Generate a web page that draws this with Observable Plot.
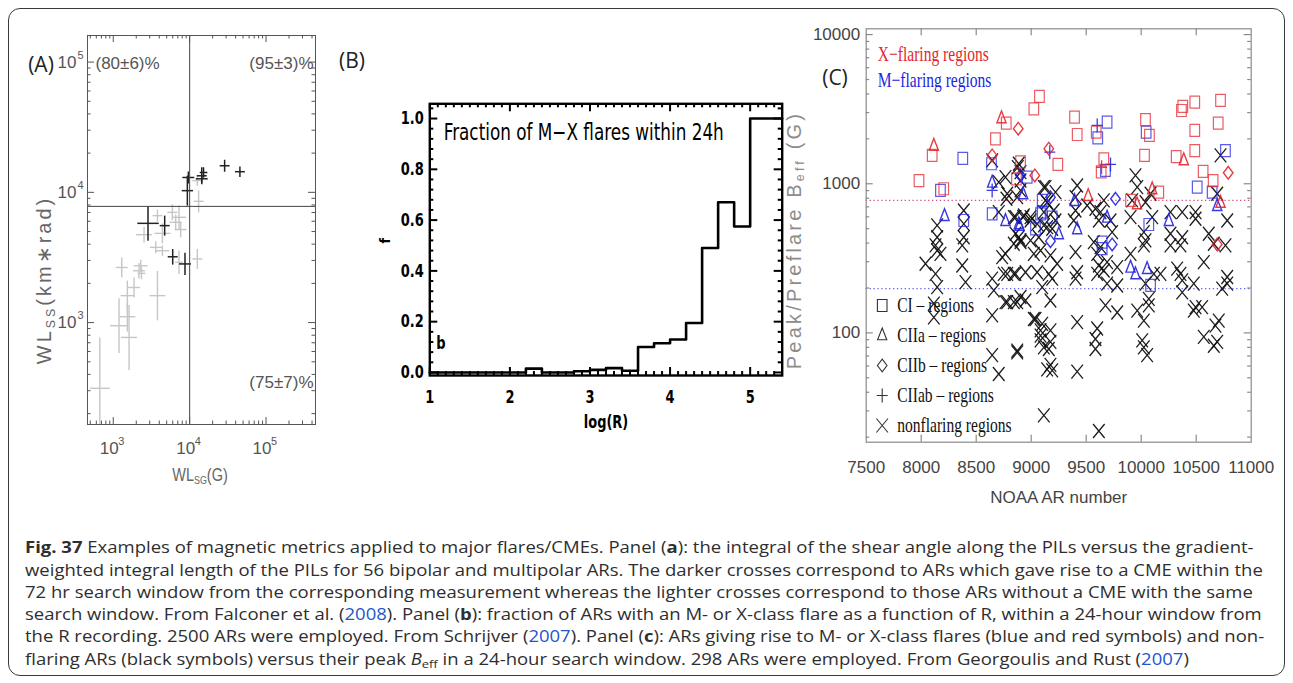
<!DOCTYPE html>
<html><head><meta charset="utf-8">
<script src="https://cdn.jsdelivr.net/npm/d3@7"></script>
<script src="https://cdn.jsdelivr.net/npm/@observablehq/plot@0.6"></script>
<style>
html,body{margin:0;padding:0;background:#fff}
body{width:1293px;height:683px;position:relative;overflow:hidden}
#border{position:absolute;left:8px;top:8px;width:1275px;height:666px;border:1.6px solid #3a3a3a;border-radius:12px}
.pl{position:absolute;top:0}
.lbl{position:absolute;font-family:"Open Sans",sans-serif;font-size:21px;color:#222;transform:translate(-50%,-50%);white-space:nowrap}
.axt{position:absolute;font-family:"Liberation Sans",Arial,sans-serif;color:#666;white-space:nowrap;transform:translate(-50%,-50%)}
.axt sub{font-size:62%;vertical-align:-0.3em}
.rot{transform:translate(-50%,-50%) rotate(-90deg)}
#caption{position:absolute;left:25px;top:536px;font-family:"Open Sans",sans-serif;font-size:18.5px;line-height:25.5px;color:#2e2e2e;transform:scaleY(0.87);transform-origin:0 0}
#caption div{white-space:nowrap}
#caption a{color:#2255cc;text-decoration:none}
#caption sub{font-size:70%;vertical-align:-0.25em;line-height:0}
</style></head><body>
<div id="border"></div>
<div id="pA" class="pl" style="left:0px"></div>
<div id="pB" class="pl" style="left:340px"></div>
<div id="pC" class="pl" style="left:800px"></div>
<div class="lbl" style="left:41px;top:64px">(A)</div>
<div class="lbl" style="left:352px;top:60px">(B)</div>
<div class="lbl" style="left:835px;top:77px">(C)</div>
<div class="axt rot" style="left:45px;top:280px;font-size:20px;letter-spacing:3px">WL<sub>SS</sub>(km∗rad)</div>
<div class="axt" style="left:200px;top:475px;font-size:19px;transform:translate(-50%,-50%) scaleX(0.76)">WL<sub>SG</sub>(G)</div>
<div class="axt rot" style="left:795px;top:240px;font-size:20px;letter-spacing:3.2px;color:#8c8c8c">Peak/Preflare B<sub>eff</sub> (G)</div>
<div id="caption">
<div><b>Fig. 37</b> Examples of magnetic metrics applied to major flares/CMEs. Panel (<b>a</b>): the integral of the shear angle along the PILs versus the gradient-</div>
<div>weighted integral length of the PILs for 56 bipolar and multipolar ARs. The darker crosses correspond to ARs which gave rise to a CME within the</div>
<div>72 hr search window from the corresponding measurement whereas the lighter crosses correspond to those ARs without a CME with the same</div>
<div>search window. From Falconer et al. (<a>2008</a>). Panel (<b>b</b>): fraction of ARs with an M- or X-class flare as a function of R, within a 24-hour window from</div>
<div>the R recording. 2500 ARs were employed. From Schrijver (<a>2007</a>). Panel (<b>c</b>): ARs giving rise to M- or X-class flares (blue and red symbols) and non-</div>
<div>flaring ARs (black symbols) versus their peak <i>B</i><sub>eff</sub> in a 24-hour search window. 298 ARs were employed. From Georgoulis and Rust (<a>2007</a>)</div>
</div>
<script>
// ---------------- Panel A data: [WL_SG (G), WL_SS (km*rad), log10 err x, log10 err y]
const cmeCrosses = [
  [9610,13000,0.078,0.046],[9330,10300,0.074,0.115],[14400,13400,0.065,0.065],[14400,12700,0.078,0.03],
  [15200,14200,0.05,0.04],[28700,16000,0.065,0.046],[45500,14400,0.065,0.04],[2850,5780,0.14,0.134],
  [4710,5550,0.065,0.077],[6000,3200,0.065,0.06],[8690,2820,0.078,0.085]
];
const noCmeCrosses = [
  [12600,12300,0.065,0.04],[13100,8530,0.065,0.085],[3790,6620,0.065,0.046],[5940,7020,0.065,0.06],
  [7250,6430,0.09,0.09],[7620,5180,0.078,0.06],[2530,4730,0.105,0.06],[4400,4840,0.105,0.077],
  [3600,3780,0.078,0.046],[4400,3560,0.09,0.04],[12600,3080,0.065,0.077],[7250,2900,0.05,0.09],
  [1290,2650,0.078,0.077],[2290,2730,0.09,0.046],[2170,2500,0.078,0.06],[2340,2390,0.05,0.046],
  [1870,1860,0.078,0.077],[1530,1610,0.09,0.115],[3790,1610,0.105,0.19],[1530,1110,0.105,0.115],
  [1190,946,0.118,0.21],[1610,769,0.105,0.25],[667,313,0.13,0.39],[6560,5890,0.078,0.06]
];
const thresholdSG = 10000, thresholdSS = 7800;
const quadrantLabels = ["(80±6)%", "(95±3)%", "(75±7)%"];
const decadeTicksA = [1e3, 1e4, 1e5];

// ---------------- Panel B data
const logRBinStart = [1.0,1.2,1.4,1.6,1.8,2.0,2.2,2.4,2.6,2.8,3.0,3.2,3.4,3.6,3.8,4.0,4.2,4.4,4.6,4.8,5.0,5.2];
const fractionMX   = [0,0,0,0,0,0,0.015,0,0,0.005,0.01,0.017,0.007,0.10,0.115,0.13,0.195,0.49,0.67,0.575,1.0,1.0];
const logRMax = 5.4;
const fTicks = [0, 0.2, 0.4, 0.6, 0.8, 1.0];
const logRTicks = [1, 2, 3, 4, 5];

// ---------------- Panel C data: [NOAA AR number, peak Beff (G)]
const xCI = [[7980,1050],[8100,1550],[8205,926],[8675,2000],[8773,2550],[9024,3180],[9075,3850],[8903,1400],[8866,1080],[9394,2800],[9418,2140],[9591,2220],[9660,1470],[9636,1200],[9242,1350],[10030,1550],[10039,2690],[10075,2110],[10318,1520],[10366,3100],[10378,3300],[10487,3530],[10487,2280],[10487,1670],[10563,1210],[10654,1050],[10721,3620],[10700,2550],[10160,879],[9903,773]];
const xCIIa = [[8115,1810],[8730,2770],[10387,1450],[10100,926],[9518,835],[9962,734],[10721,752]];
const xCIIb = [[8645,1550],[8882,2340],[9033,1137],[9160,1720],[10791,1185],[10691,392]];
const xCIIab = [[9640,1290]];
const mCI = [[8378,1480],[8175,902],[8639,1362],[8645,629],[8387,567],[8964,1107],[9100,773],[9085,629],[9039,499],[9690,2590],[9605,2030],[9675,1228],[10045,2220],[10509,949],[10645,879],[10766,1670],[9100,645],[9191,597],[10069,533],[9645,406],[9645,367],[10085,208]];
const mCIIa = [[8212,613],[8645,1025],[8927,857],[8887,539],[8766,567],[8894,526],[9394,773],[9418,499],[9690,597],[10251,567],[10691,715],[9251,462],[9903,276],[9948,249],[10054,270]];
const mCIIb = [[8903,1137],[9175,813],[9766,793],[9175,412],[9736,392]];
const mCIIab = [[8645,902],[9600,2460],[9721,1347],[9169,1628]];
const nonflaring = [
[8705,1025],[8645,1433],[8775,793],[8705,645],[8387,662],[8387,539],[8387,438],[8145,526],[8145,438],[8145,357],
[8887,1362],[8903,1196],[8903,902],[8873,813],[8842,597],[8927,597],[8994,597],[8887,438],[8903,406],[9130,949],
[9130,773],[9054,539],[9145,512],[9069,438],[8878,1292],[8903,1052],[8766,1107],[8782,857],[9115,949],[9221,879],
[9145,752],[9115,645],[9205,662],[9221,567],[9115,526],[9191,499],[8857,597],[8933,613],[8994,567],[8857,462],
[8903,417],[8994,417],[9418,974],[9403,813],[9403,662],[9387,567],[9509,715],[9584,680],[9630,645],[9660,773],
[9615,567],[9721,567],[9736,474],[9569,406],[9630,376],[9948,1137],[9964,949],[9918,773],[9903,597],[10039,752],
[10085,857],[10100,597],[10024,474],[10039,417],[10266,645],[10373,645],[10494,645],[10494,583],[10266,462],[10373,438],
[10614,462],[10660,396],[10782,567],[10721,1550],[10691,857],
[8766,339],[8842,396],[9024,339],[9085,357],[9175,331],[9236,291],[9054,255],[9160,249],[9191,231],[8782,249],
[8857,249],[8948,255],[8842,161],[8903,174],[8948,165],[8766,161],[9024,124],[9085,104],[9175,104],[9085,89],
[9175,87],[9160,78],[8873,74],[9175,61],[9191,56],[9115,28],[9100,203],[9175,165],[9403,348],[9418,255],
[9403,231],[9418,118],[9418,55],[9600,339],[9615,283],[9660,262],[9690,298],[9600,249],[9782,276],[9690,214],
[9782,208],[9675,153],[9782,137],[9600,107],[9584,91],[9584,78],[9615,22],[9903,339],[10024,386],[10115,249],
[10175,249],[10039,214],[10069,169],[10069,153],[9964,141],[10024,121],[10009,89],[10024,80],[10054,71],[10266,386],
[10357,386],[10327,270],[10357,249],[10373,225],[10373,187],[10478,214],[10478,141],[10494,149],[10554,149],[10569,298],
[10569,94],[10675,112],[10705,121],[10660,82],[10691,87],[10736,198],[10782,237],[10782,214],[10766,386],
[8039,291],[8130,386],[8175,339],[8130,249],[8145,203],[8115,157],[8115,127],[8373,386],[8373,283],[8403,219],
[8645,231],[8660,193],[8645,131],[8645,71],[8705,53],[8736,322],[8751,249],[8782,161],[8873,76],[8873,161],
[8842,249],[9039,124],[9100,115],[9085,96],[9115,80],[9145,57]
];
const xFlareThreshold = 773, mFlareThreshold = 198;
const arTickLabels = [7500,8000,8500,9000,9500,10000,10500,11000];
const beffTickLabels = [100, 1000, 10000];
const legendLabels = ["CI – regions", "CIIa – regions", "CIIb – regions", "CIIab – regions", "nonflaring regions"];
const titleLabels = ["X−flaring regions", "M−flaring regions"];

// ---------------- helpers
function logMinor(lo, hi) {
  const out = [];
  for (let e = Math.floor(Math.log10(lo)); e <= Math.ceil(Math.log10(hi)); e++)
    for (let m = 2; m <= 9; m++) { const v = m * 10 ** e; if (v >= lo && v <= hi) out.push(v); }
  return out;
}
function tickMarks(xs, ys, len, pw, ph, stroke, sw) {
  const o = {stroke, strokeWidth: sw};
  const m = [];
  if (xs.length) {
    m.push(Plot.ruleX(xs, {x: d => d, insetTop: ph - len, ...o}));
    m.push(Plot.ruleX(xs, {x: d => d, insetBottom: ph - len, ...o}));
  }
  if (ys.length) {
    m.push(Plot.ruleY(ys, {y: d => d, insetRight: pw - len, ...o}));
    m.push(Plot.ruleY(ys, {y: d => d, insetLeft: pw - len, ...o}));
  }
  return m;
}
function squeeze(svg, sel, f) {
  svg.querySelectorAll(sel).forEach(t => {
    const L = t.getComputedTextLength();
    if (L > 0) { t.setAttribute("textLength", (L * f).toFixed(1)); t.setAttribute("lengthAdjust", "spacingAndGlyphs"); }
  });
}
const noBg = {background: "transparent", overflow: "visible"};

// ---------------- Panel A
{
  const W = 340, H = 500, ml = 87, mr = 25, mt = 35, mb = 76;
  const pw = W - ml - mr, ph = H - mt - mb;
  const xd = [460, 444000], yd = [165, 160000];
  const f = {fontFamily: "Liberation Sans, Arial, sans-serif", fill: "#555"};
  const crossMarks = (data, stroke, sw) => [
    Plot.link(data, {x1: d => d[0] / 10 ** d[2], x2: d => d[0] * 10 ** d[2], y1: d => d[1], y2: d => d[1], stroke, strokeWidth: sw, clip: true}),
    Plot.link(data, {x1: d => d[0], x2: d => d[0], y1: d => d[1] / 10 ** d[3], y2: d => d[1] * 10 ** d[3], stroke, strokeWidth: sw, clip: true})
  ];
  const plot = Plot.plot({
    width: W, height: H, marginLeft: ml, marginRight: mr, marginTop: mt, marginBottom: mb,
    x: {type: "log", domain: xd, axis: null}, y: {type: "log", domain: yd, axis: null},
    style: noBg,
    marks: [
      ...crossMarks(noCmeCrosses, "#c6c6c6", 1.4),
      ...crossMarks(cmeCrosses, "#222", 1.5),
      Plot.ruleX([thresholdSG], {stroke: "#444", strokeWidth: 1}),
      Plot.ruleY([thresholdSS], {stroke: "#444", strokeWidth: 1}),
      Plot.frame({stroke: "#555", strokeWidth: 1}),
      ...tickMarks(decadeTicksA, decadeTicksA, 7, pw, ph, "#555", 1),
      ...tickMarks(logMinor(...xd), logMinor(...yd), 3.5, pw, ph, "#555", 1),
      Plot.text([quadrantLabels[0]], {text: d => d, frameAnchor: "top-left", dx: 8, dy: 28, textAnchor: "start", lineAnchor: "middle", fontSize: 17, ...f}),
      Plot.text([quadrantLabels[1]], {text: d => d, frameAnchor: "top-right", dx: -2, dy: 28, textAnchor: "end", lineAnchor: "middle", fontSize: 17, ...f}),
      Plot.text([quadrantLabels[2]], {text: d => d, frameAnchor: "bottom-right", dx: -2, dy: -42, textAnchor: "end", lineAnchor: "middle", fontSize: 17, ...f}),
      Plot.text(decadeTicksA, {x: d => d, text: () => "10", frameAnchor: "bottom", dx: -4, dy: 24, textAnchor: "middle", lineAnchor: "middle", fontSize: 17, ...f}),
      Plot.text(decadeTicksA, {x: d => d, text: d => String(Math.round(Math.log10(d))), frameAnchor: "bottom", dx: 5, dy: 17, textAnchor: "start", lineAnchor: "middle", fontSize: 11, ...f}),
      Plot.text(decadeTicksA, {y: d => d, text: () => "10", frameAnchor: "left", dx: -11, textAnchor: "end", lineAnchor: "middle", fontSize: 17, ...f}),
      Plot.text(decadeTicksA, {y: d => d, text: d => String(Math.round(Math.log10(d))), frameAnchor: "left", dx: -10, dy: -7, textAnchor: "start", lineAnchor: "middle", fontSize: 11, ...f})
    ]
  });
  document.getElementById("pA").append(plot);
}

// ---------------- Panel B
{
  const W = 470, H = 500, ml = 89.3, mr = 28.3, mt = 103.3, mb = 125;
  const pw = W - ml - mr, ph = H - mt - mb;
  const xd = [1, logRMax], yd = [-0.012, 1.058];
  const hist = logRBinStart.map((r, i) => ({r, f: fractionMX[i]}));
  hist.push({r: logRMax, f: fractionMX[fractionMX.length - 1]});
  const xMinor = d3.range(11, 54).map(i => i / 10).filter(v => Math.abs(v - Math.round(v)) > 1e-6);
  const yMinor = d3.range(0, 27).map(i => +(i * 0.04).toFixed(2)).filter(v => Math.abs(v * 5 - Math.round(v * 5)) > 1e-6);
  const f = {fontFamily: "DejaVu Sans Condensed, DejaVu Sans, sans-serif", fill: "#000"};
  const plot = Plot.plot({
    width: W, height: H, marginLeft: ml, marginRight: mr, marginTop: mt, marginBottom: mb,
    x: {domain: xd, axis: null}, y: {domain: yd, axis: null},
    style: noBg,
    marks: [
      Plot.line(hist, {x: "r", y: "f", curve: "step-after", stroke: "#000", strokeWidth: 2.6}),
      Plot.frame({stroke: "#000", strokeWidth: 2.4}),
      ...tickMarks(logRTicks, fTicks, 8, pw, ph, "#000", 2),
      ...tickMarks(xMinor, yMinor, 4, pw, ph, "#000", 2),
      Plot.text(fTicks, {y: d => d, text: d => d.toFixed(1), frameAnchor: "left", dx: -6, textAnchor: "end", lineAnchor: "middle", fontSize: 18, fontWeight: "bold", ...f}),
      Plot.text(logRTicks, {x: d => d, text: d => String(d), frameAnchor: "bottom", dy: 22, textAnchor: "middle", lineAnchor: "middle", fontSize: 18, fontWeight: "bold", ...f}),
      Plot.text(["log(R)"], {text: d => d, frameAnchor: "bottom", dy: 47, textAnchor: "middle", lineAnchor: "middle", fontSize: 18, fontWeight: "bold", ...f}),
      Plot.text(["b"], {text: d => d, frameAnchor: "bottom-left", dx: 11, dy: -32, textAnchor: "middle", lineAnchor: "middle", fontSize: 18, fontWeight: "bold", ...f}),
      Plot.text(["f"], {text: d => d, frameAnchor: "left", dx: -44, dy: 1, rotate: -90, textAnchor: "middle", lineAnchor: "middle", fontSize: 14, fontWeight: "bold", ...f}),
      Plot.text(["Fraction of M−X flares within 24h"], {text: d => d, frameAnchor: "top-left", dx: 14, dy: 28.5, textAnchor: "start", lineAnchor: "middle", fontSize: 23, ...f})
    ]
  });
  document.getElementById("pB").append(plot);
  plot.querySelectorAll("text").forEach(t => {
    if (t.textContent.startsWith("Fraction")) { t.setAttribute("textLength", "280"); t.setAttribute("lengthAdjust", "spacingAndGlyphs"); }
    else if (t.textContent !== "f") { const L = t.getComputedTextLength(); t.setAttribute("textLength", (L * 0.8).toFixed(1)); t.setAttribute("lengthAdjust", "spacingAndGlyphs"); }
  });
}

// ---------------- Panel C
{
  const W = 493, H = 510, ml = 65.7, mr = 42.3, mt = 28.3, mb = 68.3;
  const pw = W - ml - mr, ph = H - mt - mb;
  const xd = [7500, 11000], yd = [18.5, 10940];
  const red = "#e3262d", blue = "#2424e0";
  const sqS = {draw(c) { c.moveTo(-4.8, -6); c.lineTo(4.8, -6); c.lineTo(4.8, 6); c.lineTo(-4.8, 6); c.closePath(); }};
  const triS = {draw(c) { c.moveTo(0, -6.8); c.lineTo(4.6, 5); c.lineTo(-4.6, 5); c.closePath(); }};
  const diaS = {draw(c) { c.moveTo(0, -6.3); c.lineTo(4.8, 0); c.lineTo(0, 6.3); c.lineTo(-4.8, 0); c.closePath(); }};
  const plusS = {draw(c) { c.moveTo(-5.5, 0); c.lineTo(5.5, 0); c.moveTo(0, -7); c.lineTo(0, 7); }};
  const crossS = {draw(c) { c.moveTo(-5.8, -7); c.lineTo(5.8, 7); c.moveTo(5.8, -7); c.lineTo(-5.8, 7); }};
  const sym = (data, symbol, stroke, sw = 1.3, op = 0.9) =>
    Plot.dot(data, {x: d => d[0], y: d => d[1], symbol, r: 6, stroke, fill: "none", strokeWidth: sw, strokeOpacity: op});
  const tf = {fontFamily: "Liberation Sans, Arial, sans-serif", fill: "#444", fontSize: 17};
  const sf = {fontFamily: "Liberation Serif, Times New Roman, serif", fontSize: 21};
  const legendSyms = [sqS, triS, diaS, plusS, crossS];
  const legendDy = [-136.7, -107.4, -76.7, -46.7, -16.7];
  const plot = Plot.plot({
    width: W, height: H, marginLeft: ml, marginRight: mr, marginTop: mt, marginBottom: mb,
    x: {domain: xd, axis: null}, y: {type: "log", domain: yd, axis: null},
    style: noBg,
    marks: [
      Plot.ruleY([xFlareThreshold], {stroke: "#d2507a", strokeWidth: 1.2, strokeDasharray: "1.3 2.6"}),
      Plot.ruleY([mFlareThreshold], {stroke: "#6262f0", strokeWidth: 1.2, strokeDasharray: "1.3 2.6"}),
      sym(nonflaring, crossS, "#111", 1.3, 0.95),
      sym(mCI, sqS, blue, 1.2, 0.75), sym(mCIIa, triS, blue, 1.4), sym(mCIIb, diaS, blue, 1.4), sym(mCIIab, plusS, blue, 1.3),
      sym(xCI, sqS, red, 1.2, 0.75), sym(xCIIa, triS, red, 1.4), sym(xCIIb, diaS, red, 1.4), sym(xCIIab, plusS, red, 1.3),
      Plot.frame({stroke: "#8a8a8a", strokeWidth: 1.2}),
      ...tickMarks(arTickLabels.slice(1, -1), beffTickLabels, 7, pw, ph, "#8a8a8a", 1.2),
      ...tickMarks([], logMinor(...yd), 3.5, pw, ph, "#8a8a8a", 1.2),
      Plot.text(beffTickLabels, {y: d => d, text: d => String(d), frameAnchor: "left", dx: -6, textAnchor: "end", lineAnchor: "middle", ...tf}),
      Plot.text(arTickLabels, {x: d => d, text: d => String(d), frameAnchor: "bottom", dy: 25, textAnchor: "middle", lineAnchor: "middle", ...tf}),
      Plot.text(["NOAA AR number"], {text: d => d, frameAnchor: "bottom", dy: 55.5, textAnchor: "middle", lineAnchor: "middle", ...tf}),
      Plot.text([titleLabels[0]], {text: d => d, frameAnchor: "top-left", dx: 11.6, dy: 25, textAnchor: "start", lineAnchor: "middle", fill: red, ...sf}),
      Plot.text([titleLabels[1]], {text: d => d, frameAnchor: "top-left", dx: 11.6, dy: 51.7, textAnchor: "start", lineAnchor: "middle", fill: blue, ...sf}),
      ...legendLabels.map((lab, i) => Plot.dot([lab], {frameAnchor: "bottom-left", dx: 16, dy: legendDy[i], symbol: legendSyms[i], r: 6, stroke: "#333", fill: "none", strokeWidth: 1.1})),
      ...legendLabels.map((lab, i) => Plot.text([lab], {text: d => d, frameAnchor: "bottom-left", dx: 31, dy: legendDy[i], textAnchor: "start", lineAnchor: "middle", fill: "#111", ...sf}))
    ]
  });
  document.getElementById("pC").append(plot);
  squeeze(plot, 'g[font-family*="Serif"] text', 0.74);
}
</script>
</body></html>
